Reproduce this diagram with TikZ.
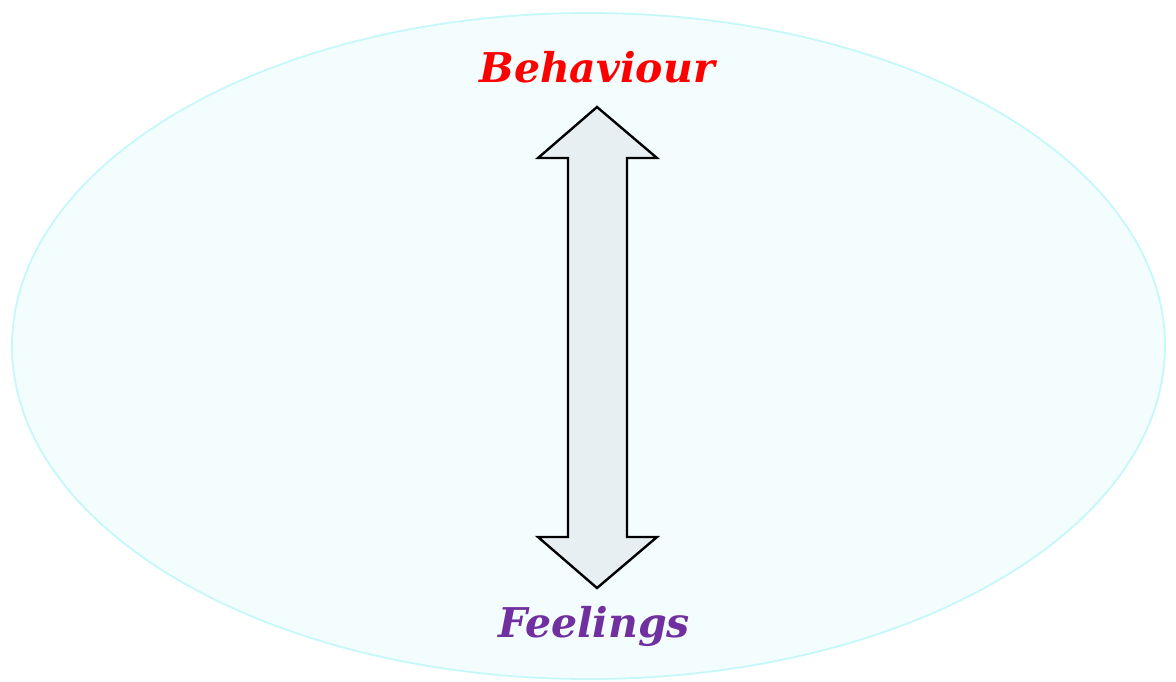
\documentclass[tikz,border=0pt]{standalone}
\usepackage{fontspec}
\newfontfamily\labfont{DejaVu Serif}
\definecolor{ellfill}{HTML}{F4FDFD}
\definecolor{elldraw}{HTML}{C6F8FA}
\definecolor{arrfill}{HTML}{E7EFF2}
\definecolor{behred}{HTML}{FF0000}
\definecolor{feelpurple}{HTML}{7030A0}
\begin{document}
\begin{tikzpicture}[x=1pt,y=-1pt,
  lbl/.style={inner sep=0pt, font=\labfont\bfseries\itshape\fontsize{41}{48}\selectfont}]
\useasboundingbox (0,0) rectangle (1176,681);
\fill[white] (0,0) rectangle (1176,681);
\draw[elldraw, fill=ellfill, line width=1.8pt] (588.5,346) ellipse [x radius=576.5, y radius=333];
\draw[black, line width=2.4pt, line join=miter, fill=arrfill]
  (597,107) -- (657,158) -- (627,158) -- (627,537) -- (657,537) -- (597,588)
  -- (538,537) -- (568,537) -- (568,158) -- (538,158) -- cycle;
\node[lbl, text=behred] (beh) at (597,67) {Behaviour};
\node[lbl, text=feelpurple] (feel) at (594,626) {Feelings};
\end{tikzpicture}
\end{document}
